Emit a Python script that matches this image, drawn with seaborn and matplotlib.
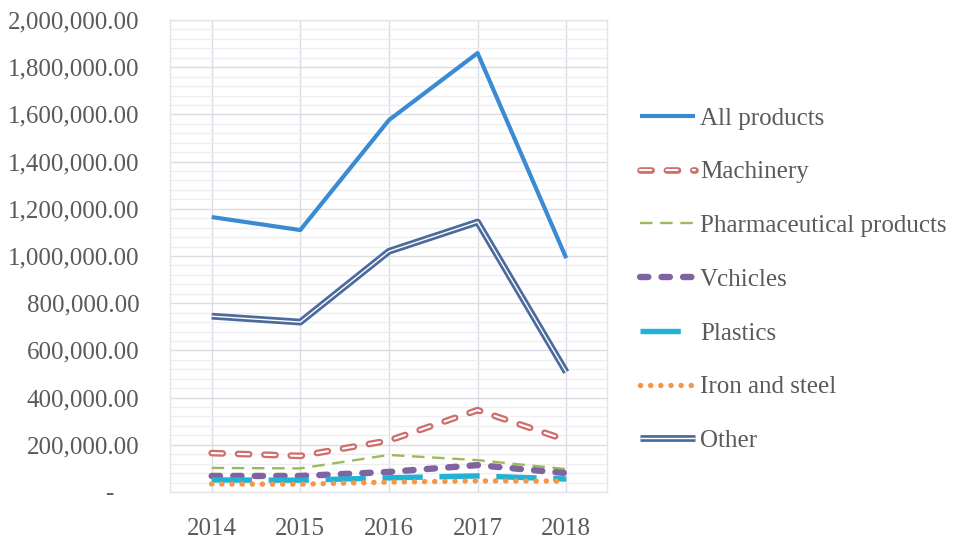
import matplotlib
matplotlib.use("Agg")
import matplotlib.pyplot as plt
import matplotlib.patheffects as pe
from matplotlib.ticker import FuncFormatter, MultipleLocator
import seaborn as sns
import pandas as pd

years = ["2014", "2015", "2016", "2017", "2018"]
all_products = [1165000, 1110000, 1576000, 1860000, 991000]
machinery = [165000, 153000, 218000, 347000, 220000]
pharmaceutical = [102000, 100000, 157000, 135000, 97000]
vehicles = [68000, 68000, 85000, 114000, 80000]
plastics = [51000, 50000, 60000, 68000, 55000]
iron_steel = [34000, 33000, 42000, 47000, 46000]
other = [745000, 720000, 1020000, 1144000, 508000]

series_names = ["All products", "Machinery", "Pharmaceutical products",
                "Vehicles", "Plastics", "Iron and steel", "Other"]
series_values = [all_products, machinery, pharmaceutical, vehicles,
                 plastics, iron_steel, other]
legend_labels = ["All products", "Machinery", "Pharmaceutical products",
                 "Vchicles", "Plastics", "Iron and steel", "Other"]

sns.set_theme(style="white")
plt.rcParams["font.family"] = ["Liberation Serif", "DejaVu Serif"]
plt.rcParams["lines.scale_dashes"] = False
TXT = "#5a5a5a"

fig = plt.figure(figsize=(9.65, 5.46), dpi=100)
ax = fig.add_axes([170 / 965, 1 - 492 / 546, (607 - 170) / 965, (492 - 20) / 546])

styles = {
    "All products": dict(color="#3a8bd2", lw=3.0, ls="-", pe=None),
    "Machinery": dict(color="white", lw=1.5, ls=(0, (8.0, 11.0)), cap="round",
                      pe=("#cf6f6c", 4.8)),
    "Pharmaceutical products": dict(color="#9bbb59", lw=1.7, ls=(0, (9, 5.5)), cap="butt", pe=None),
    "Vehicles": dict(color="#8064a2", lw=4.6, ls=(0, (6.0, 9.5)), cap="round", pe=None),
    "Plastics": dict(color="#1fb3d6", lw=3.9, ls=(0, (29, 12)), cap="butt", pe=None),
    "Iron and steel": dict(color="#f79646", lw=3.9, ls=(0, (0.1, 7.2)), cap="round", pe=None),
    "Other": dict(color="white", lw=1.0, ls="-", pe=("#4a6b9c", 4.9)),
}

handles = []
for name, vals in zip(series_names, series_values):
    df = pd.DataFrame({"year": years, "value": vals})
    st = styles[name]
    n_before = len(ax.lines)
    sns.lineplot(data=df, x="year", y="value", ax=ax, color=st["color"],
                 linewidth=st["lw"], linestyle=st["ls"], sort=False)
    line = ax.lines[n_before]
    if "cap" in st:
        line.set_dash_capstyle(st["cap"])
    line.set_solid_capstyle("butt")
    if st["pe"] is not None:
        col, w = st["pe"]
        line.set_path_effects([pe.Stroke(linewidth=w, foreground=col), pe.Normal()])
    handles.append(line)

ax.set_xlim(-0.47, 4.46)
ax.set_ylim(0, 2000000)
ax.yaxis.set_major_locator(MultipleLocator(200000))
ax.yaxis.set_minor_locator(MultipleLocator(40000))
ax.yaxis.set_major_formatter(FuncFormatter(lambda v, p: "-    " if v == 0 else f"{v:,.2f}"))
ax.set_xlabel("")
ax.set_ylabel("")

ax.grid(True, which="major", axis="both", color="#dcdce4", lw=1.0)
ax.grid(True, which="minor", axis="y", color="#eeeef2", lw=0.9)
ax.set_axisbelow(True)
for s in ax.spines.values():
    s.set_color("#e4e4ea")
    s.set_linewidth(1.0)

ax.tick_params(axis="y", which="both", length=0, pad=22, labelsize=18, labelcolor=TXT)
ax.tick_params(axis="x", which="both", length=0, pad=19, labelsize=18, labelcolor=TXT)

leg = fig.legend(handles, legend_labels, loc="upper left",
                 bbox_to_anchor=(640 / 965, 1 - 107 / 546), frameon=False,
                 fontsize=18, handlelength=2.2, handletextpad=0.2,
                 labelspacing=1.25, borderpad=0, borderaxespad=0)
for t in leg.get_texts():
    t.set_color(TXT)

fig.savefig("out.png", dpi=100)
